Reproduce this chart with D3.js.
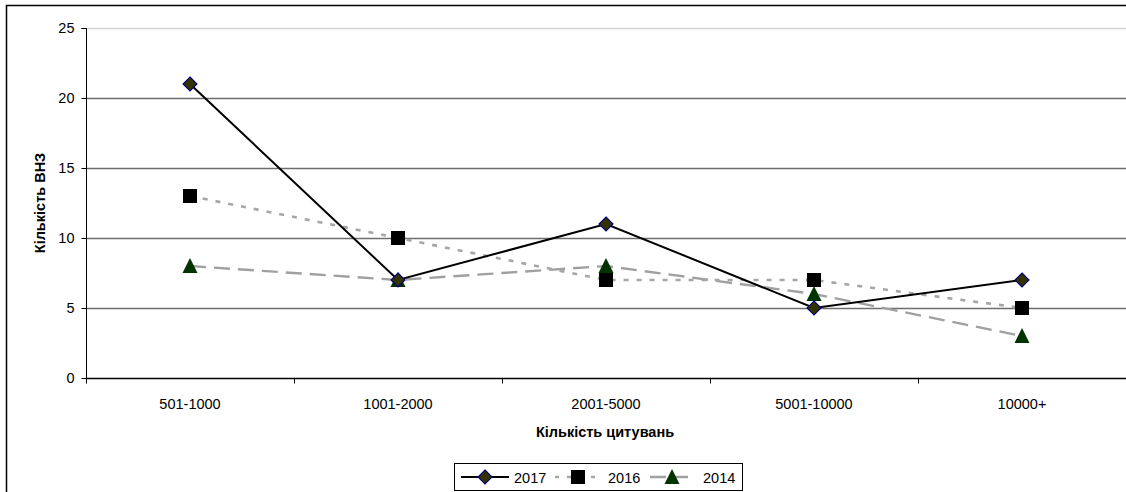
<!DOCTYPE html>
<html><head><meta charset="utf-8">
<script src="https://cdn.jsdelivr.net/npm/d3@7"></script>
<style>body{margin:0;background:#fff}svg{display:block;font-family:"Liberation Sans",Arial,sans-serif}</style>
</head><body><svg id="c" width="1126" height="492"></svg>
<script>
const categories = ["501-1000","1001-2000","2001-5000","5001-10000","10000+"];
const s2017 = [21,7,11,5,7];
const s2016 = [13,10,7,7,5];
const s2014 = [8,7,8,6,3];
const yTicks = [0,5,10,15,20,25];
const seriesNames = ["2017","2016","2014"];

const svg = d3.select("#c");
svg.append("path").attr("d","M6.5,492 V5.5 H1126").attr("fill","none").attr("stroke","#000").attr("stroke-width",1.5);

const L=86, R=1126, T=28, B=378;
const FS=14.5;
const x = d3.scaleBand().domain(categories).range([L,R]);
const y = d3.scaleLinear().domain([0,25]).range([B,T]);

svg.append("g").selectAll("line").data(yTicks.filter(d=>d>0)).join("line")
  .attr("x1",L).attr("x2",R).attr("y1",d=>Math.round(y(d))+0.5).attr("y2",d=>Math.round(y(d))+0.5)
  .attr("stroke",d=>d===25?"#d4d4d4":"#6e6e6e").attr("stroke-width",1.3);

const ya = svg.append("g").attr("transform",`translate(${L+0.5},0)`)
  .call(d3.axisLeft(y).tickValues(yTicks).tickSize(5).tickPadding(7));
ya.select(".domain").attr("d",`M-5,${T+0.5}H0V${B+0.5}`);
ya.selectAll("text").attr("font-size",FS).attr("font-family","Liberation Sans, Arial").attr("fill","#000");
ya.selectAll("line").attr("stroke","#000");

const xa = svg.append("g").attr("transform",`translate(0,${B+0.5})`);
xa.append("line").attr("x1",L).attr("x2",R).attr("stroke","#000").attr("stroke-width",1.3);
xa.selectAll("line.tk").data(d3.range(categories.length)).join("line").attr("class","tk")
  .attr("x1",i=>Math.round(x(categories[i]))+0.5).attr("x2",i=>Math.round(x(categories[i]))+0.5)
  .attr("y1",0).attr("y2",5).attr("stroke","#000");
xa.selectAll("text").data(categories).join("text")
  .attr("x",d=>x(d)+x.bandwidth()/2).attr("y",30).attr("text-anchor","middle")
  .attr("font-size",FS).text(d=>d);

svg.append("text").attr("x",605).attr("y",437).attr("text-anchor","middle")
  .attr("font-size",FS).attr("font-weight","bold").text("Кількість цитувань");
svg.append("text").attr("transform","translate(45,203) rotate(-90)").attr("text-anchor","middle")
  .attr("font-size",FS).attr("font-weight","bold").text("Кількість ВНЗ");

const cx = d => x(d)+x.bandwidth()/2;
const line = d3.line().x((d,i)=>cx(categories[i])).y(d=>y(d));

const styles = {
  "2017": {data:s2017, stroke:"#000", dash:null, w:2},
  "2016": {data:s2016, stroke:"#a6a6a6", dash:"5,8", w:2.6},
  "2014": {data:s2014, stroke:"#a0a0a0", dash:"16,8", w:2.4}
};
["2014","2016","2017"].forEach(k=>{
  const s=styles[k];
  svg.append("path").datum(s.data).attr("d",line).attr("fill","none")
    .attr("stroke",s.stroke).attr("stroke-width",s.w).attr("stroke-dasharray",s.dash);
});

function marker(g,k,px,py){
  if(k==="2017"){
    g.append("path").attr("d",`M${px},${py-7}L${px+7},${py}L${px},${py+7}L${px-7},${py}Z`)
      .attr("fill","#333300").attr("stroke","#000080").attr("stroke-width",1.1);
  } else if(k==="2016"){
    g.append("rect").attr("x",px-7).attr("y",py-7).attr("width",14).attr("height",14).attr("fill","#000");
  } else {
    g.append("path").attr("d",`M${px},${py-8}L${px+7.5},${py+7}L${px-7.5},${py+7}Z`).attr("fill","#003300");
  }
}
const mg = svg.append("g");
["2014","2016","2017"].forEach(k=>{
  styles[k].data.forEach((v,i)=>marker(mg,k,cx(categories[i]),y(v)));
});

const lg = svg.append("g");
lg.append("rect").attr("x",454.5).attr("y",463.5).attr("width",288).attr("height",27)
  .attr("fill","#fff").attr("stroke","#000").attr("stroke-width",1);
const legPos = [{x1:461,x2:509,tx:514},{x1:555,x2:601,tx:608},{x1:650,x2:694,tx:703}];
const ly=477;
seriesNames.forEach((k,i)=>{
  const s=styles[k], p=legPos[i];
  lg.append("line").attr("x1",p.x1).attr("x2",p.x2).attr("y1",ly).attr("y2",ly)
    .attr("stroke",s.stroke).attr("stroke-width",s.w).attr("stroke-dasharray",k==="2016"?"4,8":(k==="2014"?"16,6":null));
  marker(lg,k,(p.x1+p.x2)/2,ly);
  lg.append("text").attr("x",p.tx).attr("y",ly+5.5).attr("font-size",FS).text(k);
});
</script></body></html>
